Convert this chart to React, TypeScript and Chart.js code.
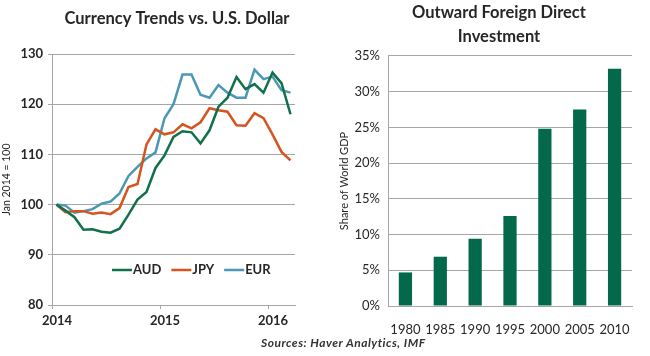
import React, { useEffect, useRef } from 'react';
import { Chart, registerables } from 'chart.js';

Chart.register(...registerables);

const FONT = 'Lato, "Open Sans", sans-serif';
const TEXT = '#262626';
const GRID = '#a6a6a6';

// ---- Left chart data: monthly index, Jan 2014 = 100 ----
const months = [
  '2014-01', '2014-02', '2014-03', '2014-04', '2014-05', '2014-06', '2014-07', '2014-08', '2014-09',
  '2014-10', '2014-11', '2014-12', '2015-01', '2015-02', '2015-03', '2015-04', '2015-05', '2015-06',
  '2015-07', '2015-08', '2015-09', '2015-10', '2015-11', '2015-12', '2016-01', '2016-02', '2016-03',
];
const audValues = [
  100, 98.8, 97.5, 95.0, 95.1, 94.6, 94.4, 95.2, 98.0, 101.0, 102.5, 107.3, 109.8, 113.5,
  114.6, 114.4, 112.2, 114.8, 119.5, 121.3, 125.4, 123.0, 124.0, 122.3, 126.3, 124.2, 118.0,
];
const jpyValues = [
  100, 98.5, 98.7, 98.7, 98.2, 98.4, 98.1, 99.3, 103.5, 104.1, 112.0, 115.0, 114.0, 114.4,
  116.0, 115.2, 116.4, 119.2, 118.8, 118.5, 115.8, 115.7, 118.2, 117.2, 114.0, 110.5, 108.8,
];
const eurValues = [
  100, 99.8, 98.4, 98.7, 99.1, 100.2, 100.6, 102.2, 105.7, 107.5, 109.2, 110.4, 117.2, 120.0,
  125.9, 125.9, 121.9, 121.3, 123.8, 122.3, 121.3, 121.3, 126.9, 125.0, 125.5, 122.8, 122.3,
];
const yearTicks = ['2014', '2015', '2016'];
const currencyTicks = [80, 90, 100, 110, 120, 130];

// ---- Right chart data ----
const fdiYears = ['1980', '1985', '1990', '1995', '2000', '2005', '2010'];
const fdiShare = [4.7, 6.9, 9.4, 12.6, 24.8, 27.5, 33.2];

const monthPos = (m: string) => {
  const [y, mo] = m.split('-').map(Number);
  return (y - 2014) * 12 + (mo - 1) + 0.5;
};
const toPoints = (vals: number[]) => vals.map((v, i) => ({ x: monthPos(months[i]), y: v }));

const spacerAxis = (width: number) => ({
  type: 'linear',
  position: 'right',
  display: true,
  afterFit: (scale: any) => { scale.width = width; },
  ticks: { display: false },
  grid: { display: false },
  border: { display: false },
});

const insideLegend = {
  id: 'insideLegend',
  afterDraw(chart: any) {
    const { ctx, chartArea } = chart;
    ctx.save();
    ctx.font = `bold 13px ${FONT}`;
    ctx.textBaseline = 'middle';
    ctx.textAlign = 'left';
    let x = chartArea.left + 60;
    const y = chartArea.top + 216;
    chart.data.datasets.forEach((ds: any) => {
      ctx.strokeStyle = ds.borderColor;
      ctx.lineWidth = 2.5;
      ctx.beginPath();
      ctx.moveTo(x, y);
      ctx.lineTo(x + 20, y);
      ctx.stroke();
      ctx.fillStyle = TEXT;
      ctx.fillText(ds.label, x + 21, y);
      x += 21 + ctx.measureText(ds.label).width + 10;
    });
    ctx.restore();
  },
};

function CurrencyChart() {
  const ref = useRef<HTMLCanvasElement>(null);
  useEffect(() => {
    const chart = new Chart(ref.current!, {
      type: 'line',
      data: {
        datasets: [
          { label: 'AUD', data: toPoints(audValues), borderColor: '#12704a', borderWidth: 2.5, pointRadius: 0, tension: 0 },
          { label: 'JPY', data: toPoints(jpyValues), borderColor: '#d5541f', borderWidth: 2.5, pointRadius: 0, tension: 0 },
          { label: 'EUR', data: toPoints(eurValues), borderColor: '#4b98b6', borderWidth: 2.5, pointRadius: 0, tension: 0 },
        ],
      },
      plugins: [insideLegend],
      options: {
        responsive: false,
        animation: false,
        layout: { padding: 0 },
        plugins: {
          legend: { display: false },
          tooltip: { enabled: false },
          title: {
            display: true,
            text: 'Currency Trends vs. U.S. Dollar',
            color: TEXT,
            font: { family: FONT, size: 16.5, weight: 'bold', lineHeight: 1.2 },
            padding: { top: 9, bottom: 25.2 },
          },
        },
        scales: {
          x: {
            type: 'linear',
            min: 0,
            max: 27,
            afterBuildTicks: (scale: any) => {
              scale.ticks = yearTicks.map((_, i) => ({ value: i * 12 }));
            },
            afterFit: (scale: any) => { scale.height = 35; },
            ticks: {
              color: TEXT,
              font: { family: FONT, size: 13, weight: 'bold' },
              padding: 4,
              labelOffset: 5,
              maxRotation: 0,
              callback: (v: any) => yearTicks[Math.round(Number(v) / 12)],
            },
            grid: { drawOnChartArea: false, drawTicks: true, tickLength: 4, color: GRID },
            border: { color: GRID },
          },
          y: {
            min: 80,
            max: 130,
            afterBuildTicks: (scale: any) => {
              scale.ticks = currencyTicks.map((v) => ({ value: v }));
            },
            afterFit: (scale: any) => { scale.width = 52; },
            ticks: {
              color: TEXT,
              font: { family: FONT, size: 13, weight: 'bold' },
              padding: 5,
            },
            grid: { color: GRID, drawTicks: true, tickLength: 4 },
            border: { color: GRID },
            title: {
              display: true,
              text: 'Jan 2014 = 100',
              color: TEXT,
              font: { family: FONT, size: 10.5 },
              padding: { top: 0, bottom: 0 },
            },
          },
          pad: spacerAxis(59),
        },
      },
    } as any);
    return () => chart.destroy();
  }, []);
  return <canvas ref={ref} width={354} height={340} style={{ position: 'absolute', left: 0, top: 0 }} />;
}

function FdiChart() {
  const ref = useRef<HTMLCanvasElement>(null);
  useEffect(() => {
    const chart = new Chart(ref.current!, {
      type: 'bar',
      data: {
        labels: fdiYears,
        datasets: [
          {
            label: 'Share of World GDP',
            data: fdiShare,
            backgroundColor: '#03694a',
            categoryPercentage: 1,
            barPercentage: 0.38,
          },
        ],
      },
      options: {
        responsive: false,
        animation: false,
        layout: { padding: 0 },
        plugins: {
          legend: { display: false },
          tooltip: { enabled: false },
          title: {
            display: true,
            text: ['Outward Foreign Direct', 'Investment'],
            color: TEXT,
            font: { family: FONT, size: 16.5, weight: 'bold', lineHeight: 1.4545 },
            padding: { top: 1, bottom: 7 },
          },
        },
        scales: {
          x: {
            afterFit: (scale: any) => { scale.height = 34; },
            ticks: { color: TEXT, font: { family: FONT, size: 13 }, padding: 8, maxRotation: 0 },
            grid: { display: false },
            border: { color: GRID },
          },
          y: {
            min: 0,
            max: 35,
            ticks: {
              stepSize: 5,
              color: TEXT,
              font: { family: FONT, size: 13 },
              padding: 8,
              callback: (v: any) => `${v}%`,
            },
            afterFit: (scale: any) => { scale.width = 58; },
            grid: { color: GRID, drawTicks: false },
            border: { color: GRID },
            title: {
              display: true,
              text: 'Share of World GDP',
              color: TEXT,
              font: { family: FONT, size: 11 },
              padding: { top: 8, bottom: 0 },
            },
          },
          pad: spacerAxis(36),
        },
      },
    } as any);
    return () => chart.destroy();
  }, []);
  return <canvas ref={ref} width={338} height={340} style={{ position: 'absolute', left: 330, top: 0 }} />;
}

export default function App() {
  return (
    <div style={{ position: 'absolute', left: 0, top: 0, width: 650, height: 356, background: '#fff', overflow: 'hidden' }}>
      <FdiChart />
      <CurrencyChart />
      <div
        style={{
          position: 'absolute',
          left: 261,
          top: 335,
          fontFamily: FONT,
          fontSize: 12,
          letterSpacing: 0.5,
          fontStyle: 'italic',
          fontWeight: 'bold',
          color: '#333',
          whiteSpace: 'nowrap',
        }}
      >
        Sources: Haver Analytics, IMF
      </div>
    </div>
  );
}
